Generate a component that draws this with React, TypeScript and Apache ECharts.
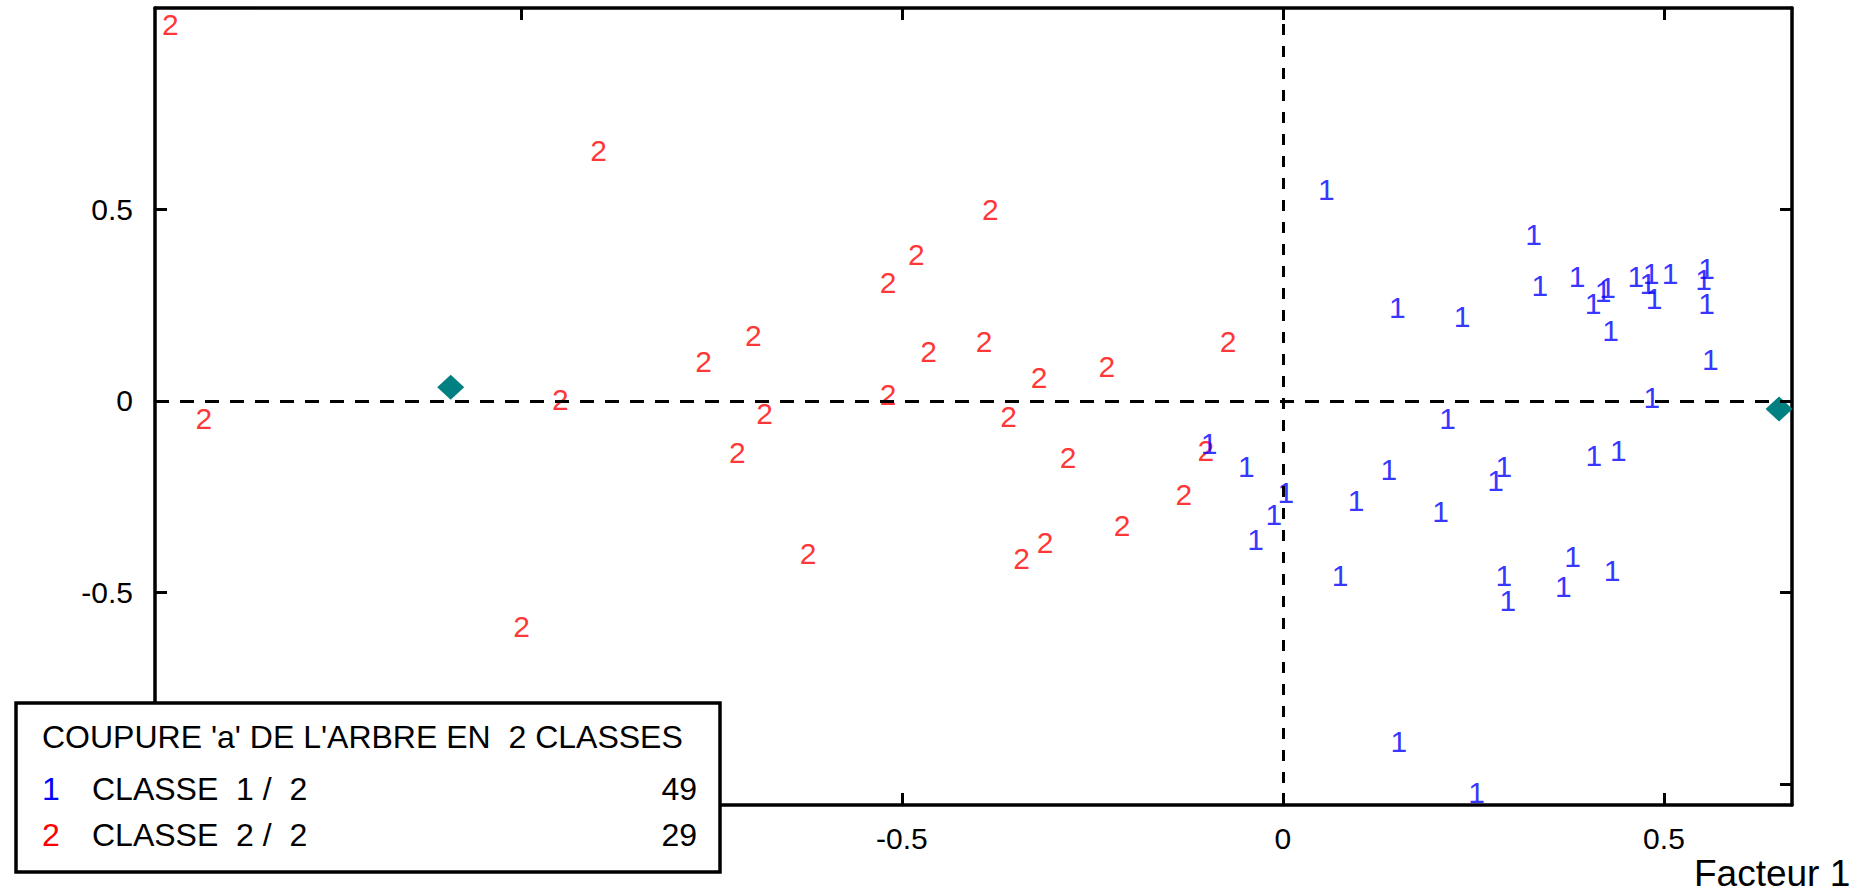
import React, { useEffect, useRef } from "react";
import * as echarts from "echarts";

// ---- data ----
const class1X = [0.057, 0.329, 0.337, 0.386, 0.150, 0.235, 0.407, 0.420, 0.426, 0.430, 0.463, 0.479, 0.483, 0.487, 0.508, 0.556, 0.552, 0.556, 0.561, 0.484, 0.216, 0.408, 0.440, -0.048, 0.004, -0.012, -0.036, 0.139, 0.290, 0.279, 0.096, 0.207, 0.380, 0.432, 0.075, 0.290, 0.368, 0.295, 0.152, 0.254, -0.097];
const class1Y = [0.552, 0.435, 0.302, 0.325, 0.245, 0.221, 0.253, 0.286, 0.296, 0.185, 0.325, 0.307, 0.333, 0.266, 0.333, 0.346, 0.318, 0.253, 0.107, 0.010, -0.047, -0.143, -0.128, -0.172, -0.238, -0.296, -0.361, -0.180, -0.172, -0.208, -0.260, -0.289, -0.406, -0.443, -0.456, -0.456, -0.484, -0.521, -0.888, -1.021, -0.112];
const class2X = [-1.460, -0.898, -1.416, -0.948, -0.384, -0.481, -0.518, -0.695, -0.760, -0.465, -0.392, -0.072, -0.231, -0.320, -0.518, -0.680, -0.360, -0.716, -0.282, -0.101, -0.130, -0.211, -0.312, -0.343, -0.623, -0.999];
const class2Y = [0.982, 0.654, -0.047, 0.003, 0.500, 0.383, 0.310, 0.172, 0.104, 0.128, 0.156, 0.156, 0.091, 0.062, 0.018, -0.034, -0.041, -0.135, -0.148, -0.128, -0.245, -0.326, -0.370, -0.412, -0.398, -0.589];
const centroidX = [-1.092, 0.651];
const centroidY = [0.036, -0.021];

const xTickValues = [-1, -0.5, 0, 0.5];
const xLabelValues = [-0.5, 0, 0.5];
const yTickValues = [-1, -0.5, 0, 0.5];
const yLabelValues = [-0.5, 0, 0.5];

const legendTitle = "COUPURE 'a' DE L'ARBRE EN  2 CLASSES";
const classSymbols = ["1", "2"];
const classNames = ["CLASSE  1 /  2", "CLASSE  2 /  2"];
const classCounts = ["49", "29"];
const axisName = "Facteur 1";

const FONT = '"Liberation Sans", Arial, sans-serif';
const BLUE = "#0000ff";
const RED = "#ff0000";
const TEAL = "#008080";

export default function App() {
  const ref = useRef<HTMLDivElement>(null);
  useEffect(() => {
    document.body.style.margin = "0";
    if (!ref.current) return;
    const chart = echarts.init(ref.current, null, { renderer: "svg" });
    const zip = (xs: number[], ys: number[]) => xs.map((x, i) => [x, ys[i]]);
    const baseAxis = {
      type: "value",
      axisLine: { show: true, onZero: false, lineStyle: { color: "#000", width: 3.5 } },
      axisTick: { show: true, inside: true, length: 12, lineStyle: { color: "#000", width: 3 } },
      splitLine: { show: false },
    };
    const xMin = -1.48, xMax = 0.668, yMin = -1.054, yMax = 1.025;
    const labelSeries = (xs: number[], ys: number[], txt: string, color: string) => ({
      type: "scatter",
      data: zip(xs, ys),
      symbolSize: 1,
      itemStyle: { color: "transparent" },
      silent: true,
      label: {
        show: true,
        position: "inside",
        formatter: txt,
        color,
        fontSize: 30,
        fontFamily: FONT,
      },
      labelLayout: { hideOverlap: false },
    });
    const legendRows: any[] = [];
    classSymbols.forEach((s, i) => {
      const y = 789 + i * 46;
      legendRows.push(
        { type: "text", z: 101, style: { text: s, x: 42, y, fill: i === 0 ? BLUE : RED, font: `32px ${FONT}`, textAlign: "left", textVerticalAlign: "middle" } },
        { type: "text", z: 101, style: { text: classNames[i], x: 92, y, fill: "#000", font: `32px ${FONT}`, textAlign: "left", textVerticalAlign: "middle" } },
        { type: "text", z: 101, style: { text: classCounts[i], x: 697, y, fill: "#000", font: `32px ${FONT}`, textAlign: "right", textVerticalAlign: "middle" } }
      );
    });
    chart.setOption({
      animation: false,
      backgroundColor: "#fff",
      grid: { left: 155, right: 78, top: 8, bottom: 88, containLabel: false, outerBoundsMode: "none" },
      xAxis: [
        {
          ...baseAxis,
          position: "bottom",
          min: xMin,
          max: xMax,
          axisTick: { ...baseAxis.axisTick, customValues: xTickValues },
          axisLabel: { show: true, customValues: xLabelValues, margin: 18, color: "#000", fontSize: 30, fontFamily: FONT },
        },
        {
          ...baseAxis,
          position: "top",
          min: xMin,
          max: xMax,
          axisTick: { ...baseAxis.axisTick, customValues: xTickValues },
          axisLabel: { show: false },
        },
      ],
      yAxis: [
        {
          ...baseAxis,
          position: "left",
          min: yMin,
          max: yMax,
          axisTick: { ...baseAxis.axisTick, customValues: yTickValues },
          axisLabel: { show: true, customValues: yLabelValues, margin: 22, color: "#000", fontSize: 30, fontFamily: FONT },
        },
        {
          ...baseAxis,
          position: "right",
          min: yMin,
          max: yMax,
          axisTick: { ...baseAxis.axisTick, customValues: yTickValues },
          axisLabel: { show: false },
        },
      ],
      series: [
        {
          type: "scatter",
          data: [],
          silent: true,
          markLine: {
            silent: true,
            symbol: "none",
            label: { show: false },
            animation: false,
            data: [
              { xAxis: 0, lineStyle: { color: "#000", width: 3, type: [11, 11] } },
              { yAxis: 0, lineStyle: { color: "#000", width: 3, type: [14, 11] } },
            ],
          },
        },
        labelSeries(class2X, class2Y, "2", RED),
        labelSeries(class1X, class1Y, "1", BLUE),
        {
          type: "scatter",
          data: zip(centroidX, centroidY),
          symbol: "diamond",
          symbolSize: [27, 25],
          itemStyle: { color: TEAL, opacity: 1 },
          silent: true,
          clip: false,
        },
      ],
      graphic: [
        {
          type: "rect",
          z: 100,
          shape: { x: 16, y: 703, width: 704, height: 169 },
          style: { fill: "#fff", stroke: "#000", lineWidth: 3.5 },
        },
        { type: "text", z: 101, style: { text: legendTitle, x: 42, y: 737, fill: "#000", font: `32px ${FONT}`, textAlign: "left", textVerticalAlign: "middle" } },
        ...legendRows,
        { type: "text", z: 101, style: { text: axisName, x: 1694, y: 873, fill: "#000", font: `37px ${FONT}`, textAlign: "left", textVerticalAlign: "middle" } },
      ],
    });
    return () => chart.dispose();
  }, []);
  return <div ref={ref} style={{ width: 1870, height: 893 }} />;
}
